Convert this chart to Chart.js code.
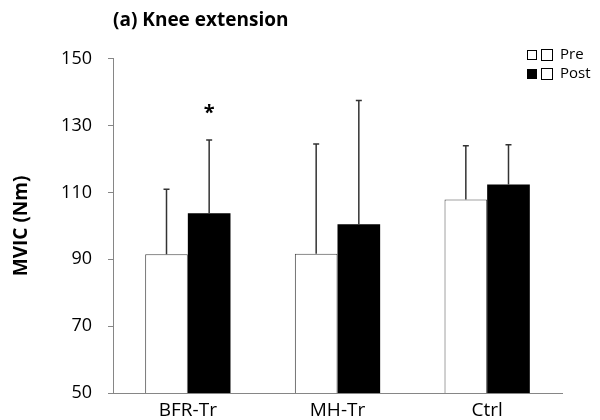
<!DOCTYPE html>
<html>
<head>
<meta charset="utf-8">
<title>(a) Knee extension</title>
<script src="https://cdn.jsdelivr.net/npm/chart.js@4.4.1/dist/chart.umd.min.js"></script>
<style>
    html, body { margin: 0; padding: 0; background: #fff; }
    #wrap { width: 600px; height: 420px; }
</style>
</head>
<body>
<div id="wrap"><canvas id="kneeChart" width="600" height="420"></canvas></div>
<script>
// --- DATA ---
const groups = ['BFR-Tr', 'MH-Tr', 'Ctrl'];
const preMean = [91.5, 91.7, 107.9];
const preSD = [19.5, 32.8, 16.1];
const postMean = [103.8, 100.5, 112.4];
const postSD = [21.9, 37.0, 11.9];
const postMarks = ['*', '', ''];
const yTicks = [50, 70, 90, 110, 130, 150];

const FONT = "'Open Sans', 'Noto Sans', sans-serif";
const AXIS_GREY = '#868686';

// --- PLUGINS ---
// upward-only error bars with a small cap, like the Excel original
const errorBars = {
    id: 'errorBars',
    afterDatasetsDraw(chart) {
        const ctx = chart.ctx;
        const yScale = chart.scales.y;
        ctx.save();
        ctx.strokeStyle = '#333';
        ctx.lineWidth = 1.5;
        chart.data.datasets.forEach((ds, i) => {
            chart.getDatasetMeta(i).data.forEach((bar, j) => {
                const yTop = yScale.getPixelForValue(ds.data[j] + ds.sd[j]);
                const yBase = yScale.getPixelForValue(ds.data[j]);
                ctx.beginPath();
                ctx.moveTo(bar.x, yBase);
                ctx.lineTo(bar.x, yTop);
                ctx.moveTo(bar.x - 3, yTop);
                ctx.lineTo(bar.x + 3, yTop);
                ctx.stroke();
                if (ds.marks && ds.marks[j]) {
                    ctx.fillStyle = '#000';
                    ctx.font = `bold 20px ${FONT}`;
                    ctx.textAlign = 'center';
                    ctx.textBaseline = 'middle';
                    ctx.fillText(ds.marks[j], bar.x, yTop - 27);
                }
            });
        });
        ctx.restore();
    }
};

// legend in the top right corner: two little squares per entry
const cornerLegend = {
    id: 'cornerLegend',
    afterDraw(chart) {
        const ctx = chart.ctx;
        ctx.save();
        ctx.font = `15px ${FONT}`;
        ctx.textBaseline = 'middle';
        ctx.textAlign = 'left';
        ctx.lineWidth = 1;
        ctx.strokeStyle = '#000';
        chart.data.datasets.forEach((ds, i) => {
            const cy = 55 + i * 19;
            ctx.fillStyle = ds.backgroundColor;
            ctx.fillRect(527.5, cy - 4.5, 9, 9);
            ctx.strokeRect(527.5, cy - 4.5, 9, 9);
            ctx.strokeRect(541.5, cy - 5.5, 11, 11);
            ctx.fillStyle = '#000';
            ctx.fillText(ds.label, 560, cy);
        });
        ctx.restore();
    }
};

// --- CHART ---
document.addEventListener('DOMContentLoaded', () => {
    const ctx = document.getElementById('kneeChart').getContext('2d');
    new Chart(ctx, {
        type: 'bar',
        data: {
            labels: groups,
            datasets: [
                { label: 'Pre', data: preMean, sd: preSD, backgroundColor: '#ffffff', borderColor: '#444', borderWidth: 1 },
                { label: 'Post', data: postMean, sd: postSD, marks: postMarks, backgroundColor: '#000000', borderColor: '#000', borderWidth: 0 }
            ]
        },
        options: {
            responsive: false,
            animation: false,
            categoryPercentage: 0.57,
            barPercentage: 1.0,
            layout: { padding: { left: 0, right: 38, bottom: 0 } },
            plugins: {
                legend: { display: false },
                tooltip: { enabled: false },
                title: {
                    display: true,
                    text: '(a) Knee extension',
                    align: 'start',
                    fullSize: false,
                    color: '#000',
                    font: { family: FONT, size: 19, weight: 'bold' },
                    padding: { top: 9, bottom: 27 }
                }
            },
            scales: {
                x: {
                    grid: { display: false, drawTicks: false },
                    border: { display: true, color: AXIS_GREY, width: 1 },
                    ticks: { color: '#000', padding: 6, font: { family: FONT, size: 19 } },
                    afterFit: (scale) => { scale.height = 27; }
                },
                y: {
                    min: 50,
                    max: 150,
                    afterBuildTicks: (scale) => { scale.ticks = yTicks.map(v => ({ value: v })); },
                    grid: { drawOnChartArea: false, drawTicks: true, tickLength: 5, color: AXIS_GREY },
                    border: { display: true, color: AXIS_GREY, width: 1 },
                    ticks: { color: '#000', padding: 16, font: { family: FONT, size: 18 } },
                    title: {
                        display: true,
                        text: 'MVIC (Nm)',
                        color: '#000',
                        font: { family: FONT, size: 19, weight: 'bold' },
                        padding: { top: 10, bottom: 0 }
                    },
                    afterFit: (scale) => { scale.width = 113; }
                }
            }
        },
        plugins: [errorBars, cornerLegend]
    });
});
</script>
</body>
</html>
